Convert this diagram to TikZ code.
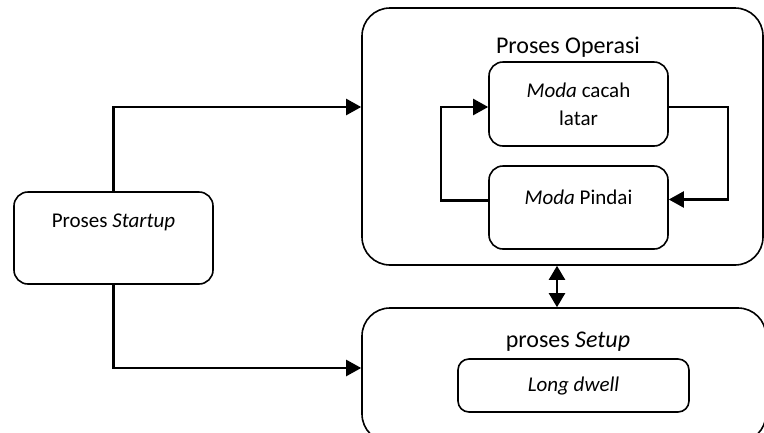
\documentclass[tikz,border=0pt]{standalone}
\usepackage{fontspec}
\setmainfont{Carlito}
\usetikzlibrary{arrows.meta}
\begin{document}
\begin{tikzpicture}[x=1pt,y=-1pt,
  box/.style={draw,line width=1.6pt,rounded corners=#1,inner sep=0pt},
  box/.default=14pt,
  small/.style={font=\fontsize{21}{28}\selectfont,align=center,inner sep=0pt},
  big/.style={font=\fontsize{24}{28}\selectfont,inner sep=0pt},
  conn/.style={line width=2.2pt,-{Triangle[length=15pt,width=16pt]}},
  dconn/.style={line width=2.2pt,{Triangle[length=14pt,width=16pt]}-{Triangle[length=14pt,width=16pt]}}]
\clip (0,0) rectangle (764,432);
\useasboundingbox (0,0) rectangle (764,432);
% boxes
\node[box=28pt,minimum width=401pt,minimum height=257pt] (operasi) at (562.5,136.5) {};
\node[box=28pt,minimum width=404pt,minimum height=134pt] (setup) at (564,375) {};
\node[box,minimum width=199pt,minimum height=92pt] (startup) at (113.5,238) {};
\node[box,minimum width=179pt,minimum height=84pt] (cacah) at (578.5,104) {};
\node[box,minimum width=179pt,minimum height=83pt] (pindai) at (578.5,207.5) {};
\node[box,rounded corners=11pt,minimum width=231pt,minimum height=53pt] (dwell) at (573.5,385.5) {};
% texts
\node[big] (topT) at (568,47) {Proses Operasi};
\node[big] (setT) at (568,342) {proses \textit{Setup}};
\node[small] (cacT) at (578.5,104) {\textit{Moda} cacah\\latar};
\node[small] (pinT) at (578.5,197) {\textit{Moda} Pindai};
\node[small] (dwT) at (573.5,386) {\textit{Long dwell}};
\node[small] (stT) at (113.5,222) {Proses \textit{Startup}};
% connector anchors
\coordinate (opIn) at ([yshift=29.5pt]operasi.west);
\coordinate (setIn) at ([yshift=7pt]setup.west);
\coordinate (dbl) at (557,0);
% connectors
\draw[conn] (startup.north) |- (opIn);
\draw[conn] (startup.south) |- (setIn);
\draw[conn] ([yshift=7pt]pindai.west) -- ++(-47,0) |- ([yshift=-3pt]cacah.west);
\draw[conn] ([yshift=-3pt]cacah.east) -- ++(59,0) |- ([yshift=8pt]pindai.east);
\draw[dconn] (operasi.south -| dbl) -- (setup.north -| dbl);
\end{tikzpicture}
\end{document}
